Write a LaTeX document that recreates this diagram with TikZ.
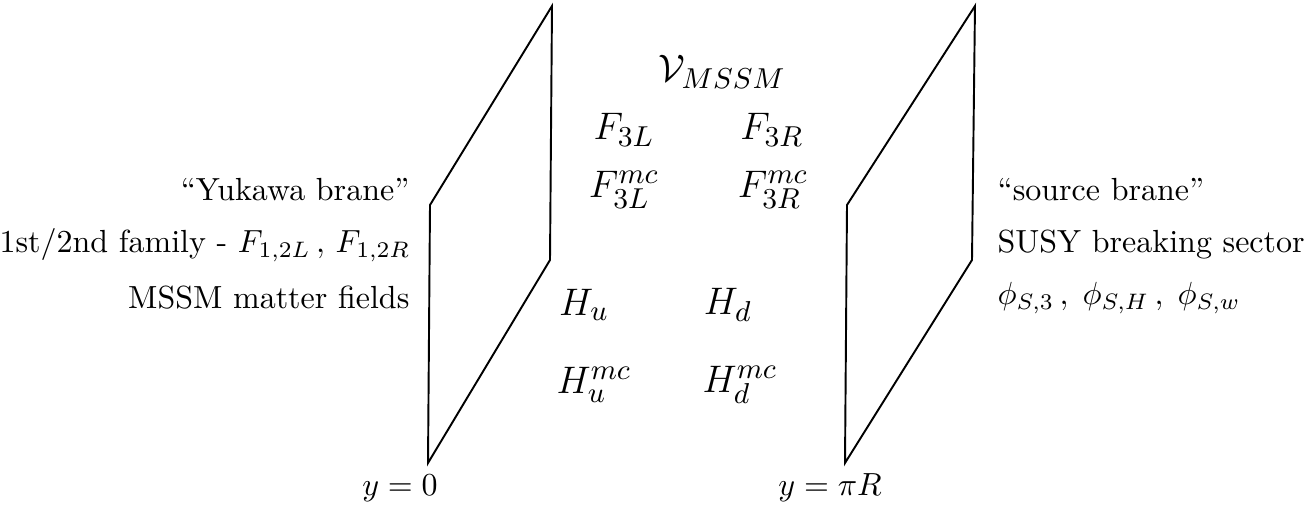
\documentclass[tikz,border=0pt]{standalone}
\begin{document}
\begin{tikzpicture}[x=0.3125pt,y=-0.3125pt,
  brane/.style={draw, line width=0.6pt, line join=miter},
  lbl/.style={inner sep=0pt},
  field/.style={inner sep=0pt, font=\fontsize{13}{15}\selectfont}]
\useasboundingbox (0,0) rectangle (1312,505);
% left brane (y = 0)
\coordinate (LT) at (552,6);
\coordinate (LUL) at (430,205);
\coordinate (LB) at (428,463);
\coordinate (LLR) at (550,260);
\draw[brane] (LT) -- (LUL) -- (LB) -- (LLR) -- cycle;
% right brane (y = pi R)
\coordinate (RT) at (975,6);
\coordinate (RUL) at (847,205);
\coordinate (RB) at (845,463);
\coordinate (RLR) at (972,260);
\draw[brane] (RT) -- (RUL) -- (RB) -- (RLR) -- cycle;
% left labels
\node[lbl, anchor=east] (yuk) at (410,190) {``Yukawa brane''};
\node[lbl, anchor=east] (fam) at (411,245) {1st/2nd family - $F_{1,2L}\,,\,F_{1,2R}$};
\node[lbl, anchor=east] (mat) at (410,298) {MSSM matter fields};
% right labels
\node[lbl, anchor=west] (src) at (997,190) {``source brane''};
\node[lbl, anchor=west] (susy) at (997,245) {SUSY breaking sector};
\node[lbl, anchor=west] (phi) at (997,298) {$\phi_{S,3}\,,\;\phi_{S,H}\,,\;\phi_{S,w}$};
% bulk fields
\node[field] (V) at (722,72) {$\mathcal{V}_{MSSM}$};
\node[field] (F3L) at (624,130) {$F_{3L}$};
\node[field] (F3R) at (772,130) {$F_{3R}$};
\node[field] (F3Lmc) at (624,190) {$F_{3L}^{mc}$};
\node[field] (F3Rmc) at (773,190) {$F_{3R}^{mc}$};
\node[field] (Hu) at (584,305) {$H_u$};
\node[field] (Hd) at (728,305) {$H_d$};
\node[field] (Humc) at (594,385) {$H_u^{mc}$};
\node[field] (Hdmc) at (740,385) {$H_d^{mc}$};
% positions
\node[lbl] (y0) at (400,488) {$y=0$};
\node[lbl] (ypi) at (830,488) {$y=\pi R$};
\end{tikzpicture}
\end{document}
